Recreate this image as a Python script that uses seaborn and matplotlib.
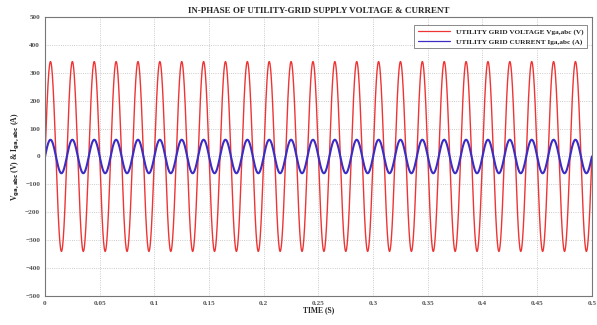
import numpy as np
import pandas as pd
import matplotlib
matplotlib.use("Agg")
import matplotlib.pyplot as plt
import seaborn as sns

# Values
series_names = ["UTILITY GRID VOLTAGE Vga,abc (V)", "UTILITY GRID CURRENT Iga,abc (A)"]
series_peaks = [340, 60]          # amplitudes (V, A)
grid_frequency_hz = 50            # 25 cycles in 0.5 s
time_start, time_end = 0.0, 0.5
x_ticks = [0, 0.05, 0.1, 0.15, 0.2, 0.25, 0.3, 0.35, 0.4, 0.45, 0.5]
x_tick_labels = ["0", "0.05", "0.1", "0.15", "0.2", "0.25", "0.3", "0.35", "0.4", "0.45", "0.5"]
y_ticks = [-500, -400, -300, -200, -100, 0, 100, 200, 300, 400, 500]

t = np.linspace(time_start, time_end, 6001)
frames = []
for name, amp in zip(series_names, series_peaks):
    frames.append(pd.DataFrame({"t": t, "v": amp * np.sin(2 * np.pi * grid_frequency_hz * t), "s": name}))
df = pd.concat(frames, ignore_index=True)

sns.set_style("white")
plt.rcParams["font.family"] = ["Liberation Serif", "DejaVu Serif"]
plt.rcParams["font.weight"] = "bold"

fig = plt.figure(figsize=(5.97, 3.25), dpi=100)
ax = fig.add_axes([0.0754, 0.089, 0.916, 0.859])

sns.lineplot(data=df, x="t", y="v", hue="s", hue_order=series_names,
             palette=["#ee3535", "#3b2cc4"], ax=ax, estimator=None, sort=False)
lines = ax.get_lines()
lines[0].set_linewidth(1.0)
lines[1].set_linewidth(1.5)

ax.set_xlim(0, 0.5)
ax.set_ylim(-500, 500)
ax.set_xticks(x_ticks)
ax.set_xticklabels(x_tick_labels)
ax.set_yticks(y_ticks)
ax.tick_params(labelsize=5.2, colors="#555555", length=2, width=0.6, pad=1.5)
ax.grid(True, linestyle=":", color="#bbbbbb", linewidth=0.6)
for sp in ax.spines.values():
    sp.set_color("#777777")
    sp.set_linewidth(0.8)

ax.set_title("IN-PHASE OF UTILITY-GRID SUPPLY VOLTAGE & CURRENT", fontsize=6.5, fontweight="bold", pad=3)
ax.set_xlabel("TIME (S)", fontsize=5.5, fontweight="bold", labelpad=0)
ax.set_ylabel(r"V$_{\mathrm{ga,abc}}$ (V) & I$_{\mathrm{ga,abc}}$ (A)", fontsize=5.5, fontweight="bold", labelpad=2)

leg = ax.legend(loc="upper right", fontsize=5.2, frameon=True, fancybox=False,
                edgecolor="#555555", handlelength=4.5, borderpad=0.5, labelspacing=0.5,
                bbox_to_anchor=(0.998, 0.985))
leg.get_frame().set_linewidth(0.6)
for h in leg.get_lines():
    h.set_linewidth(0.9)

fig.savefig("out.png", dpi=100)
